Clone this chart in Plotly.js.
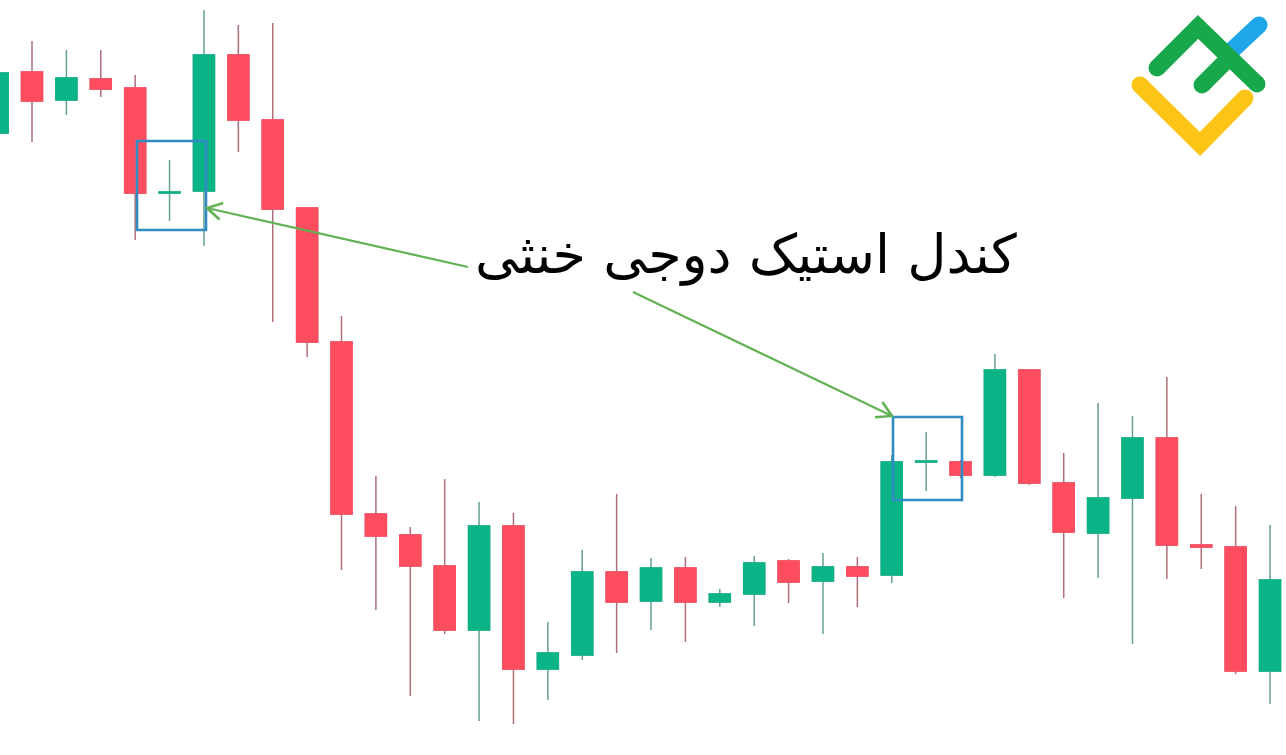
<!DOCTYPE html>
<html>
<head>
<meta charset="utf-8">
<script src="https://cdn.plot.ly/plotly-3.0.1.min.js"></script>
<style>html,body{margin:0;padding:0;background:#fff;}#chart{width:1286px;height:755px;}</style>
</head>
<body>
<div id="chart"></div>
<script>
// ---- data (price units, arbitrary) ----
const periods = Array.from({length: 38}, (_, i) => i + 1);
const openP  = [667,728,700,721,712,607,609,745,680,592,458,286,265,234,170,274,131,145,228,199,232,198,206,239,219,233,225,338,338,325,430,317,267,302,362,255,253,129];
const highP  = [727,759,750,750,725,640,790,775,777,592,484,324,273,321,298,287,178,250,306,242,243,211,244,241,247,243,345,368,340,446,430,347,397,384,423,306,294,275];
const lowP   = [667,658,685,703,560,579,554,648,478,443,230,190,104,166, 79, 76,100,140,147,170,158,193,174,197,166,193,217,309,322,323,315,202,222,156,221,231,126, 96];
const closeP = [727,699,722,711,607,608,745,680,591,458,286,264,234,170,274,131,147,228,198,232,198,206,237,218,233,224,338,339,325,430,317,268,302,362,255,253,129,220];
const caption = 'کندل استیک دوجی خنثی';

const W = 1286, H = 755;
const UP = '#0bb487', DOWN = '#ff4d60';
const UP_WICK = '#66a191', DOWN_WICK = '#b0707a';

const bodyHigh = openP.map((o, i) => Math.max(o, closeP[i]));
const bodyLow  = openP.map((o, i) => Math.min(o, closeP[i]));

const wicks = {
  type: 'candlestick', x: periods, open: openP, high: highP, low: lowP, close: closeP,
  increasing: {line: {color: UP_WICK, width: 1.5}, fillcolor: UP},
  decreasing: {line: {color: DOWN_WICK, width: 1.5}, fillcolor: DOWN},
  hoverinfo: 'skip', showlegend: false
};
const bodies = {
  type: 'candlestick', x: periods, open: openP, high: bodyHigh, low: bodyLow, close: closeP,
  increasing: {line: {color: UP, width: 1.5}, fillcolor: UP},
  decreasing: {line: {color: DOWN, width: 1.5}, fillcolor: DOWN},
  hoverinfo: 'skip', showlegend: false
};

// ---- pixel helpers for decorations ----
const px = x => x / W;
const py = y => 1 - y / H;
const P = (x, y) => px(x).toFixed(5) + ',' + py(y).toFixed(5);

const shapes = [];
function seg(pts, color, width) {
  shapes.push({type: 'path', xref: 'paper', yref: 'paper',
    path: 'M' + pts.map(p => P(p[0], p[1])).join(' L'),
    line: {color: color, width: width}});
}
function dot(x, y, r, color) {
  shapes.push({type: 'circle', xref: 'paper', yref: 'paper',
    x0: px(x - r), x1: px(x + r), y0: py(y + r), y1: py(y - r),
    fillcolor: color, line: {width: 0}});
}
function arrow(sx, sy, tx, ty, color) {
  seg([[sx, sy], [tx, ty]], color, 2.2);
  const dx = sx - tx, dy = sy - ty, L = Math.hypot(dx, dy);
  const ux = dx / L, uy = dy / L, a = 30 * Math.PI / 180, len = 17;
  const r1 = [tx + len * (ux * Math.cos(a) - uy * Math.sin(a)), ty + len * (ux * Math.sin(a) + uy * Math.cos(a))];
  const r2 = [tx + len * (ux * Math.cos(-a) - uy * Math.sin(-a)), ty + len * (ux * Math.sin(-a) + uy * Math.cos(-a))];
  seg([r1, [tx, ty], r2], color, 2.6);
}
function rect(x0, y0, x1, y1, color) {
  shapes.push({type: 'rect', xref: 'paper', yref: 'paper',
    x0: px(x0), x1: px(x1), y0: py(y1), y1: py(y0),
    line: {color: color, width: 2.6}, fillcolor: 'rgba(0,0,0,0)'});
}

rect(137, 141, 206, 230, '#2f8dc4');
rect(893, 417, 962, 500, '#2f8dc4');
arrow(468, 267, 207, 208, '#62b255');
arrow(633, 292, 892, 416, '#62b255');

// logo
const LW = 17, R = 8.5;
const BLUE = '#1fa7ea', GREEN = '#17a84b', YELLOW = '#fdc418';
seg([[1228, 54], [1259, 25]], BLUE, LW); dot(1259, 25, R, BLUE);
seg([[1157, 68], [1198, 27], [1257, 84]], GREEN, LW); dot(1157, 68, R, GREEN); dot(1257, 84, R, GREEN); dot(1198, 27, R, GREEN);
seg([[1202, 85], [1230, 57]], GREEN, LW); dot(1202, 85, R, GREEN);
seg([[1140, 85], [1200, 144], [1245, 98]], YELLOW, LW); dot(1140, 85, R, YELLOW); dot(1245, 98, R, YELLOW); dot(1200, 144, R, YELLOW);

const layout = {
  width: W, height: H,
  margin: {l: 0, r: 0, t: 0, b: 0},
  paper_bgcolor: '#ffffff', plot_bgcolor: '#ffffff',
  showlegend: false,
  boxmode: 'overlay', boxgap: 0.39, boxgroupgap: 0,
  xaxis: {range: [1.0695, 38.464], visible: false, rangeslider: {visible: false}, fixedrange: true},
  yaxis: {range: [45, 800], visible: false, fixedrange: true},
  shapes: shapes,
  annotations: [{
    xref: 'paper', yref: 'paper', x: px(746), y: py(254),
    xanchor: 'center', yanchor: 'middle', showarrow: false,
    text: caption,
    font: {family: 'DejaVu Sans, Noto Sans, sans-serif', size: 54, color: '#000000'}
  }]
};

Plotly.newPlot('chart', [wicks, bodies], layout, {staticPlot: true, displayModeBar: false});
</script>
</body>
</html>
